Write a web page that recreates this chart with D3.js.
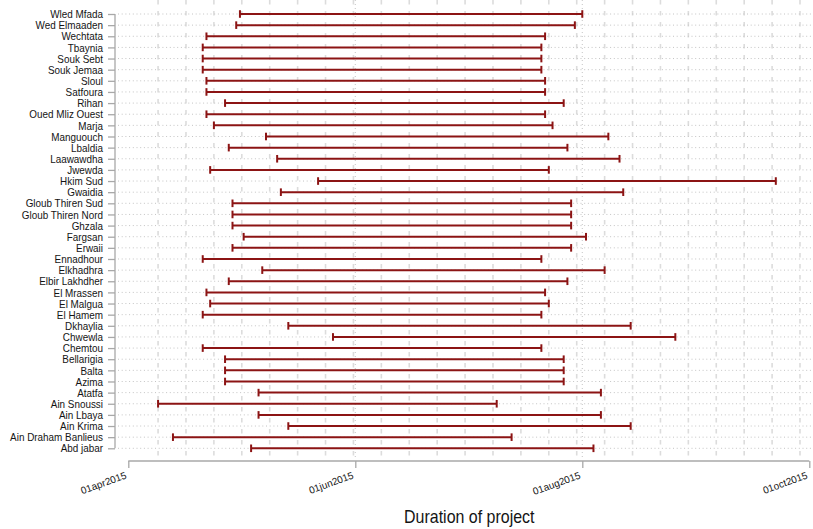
<!DOCTYPE html>
<html>
<head>
<meta charset="utf-8">
<script src="https://cdn.jsdelivr.net/npm/d3@7"></script>
<style>
  html, body { margin: 0; padding: 0; background: #fff; }
  svg { display: block; font-family: "Liberation Sans", Arial, sans-serif; }
</style>
</head>
<body>
<svg id="chart" width="813" height="529"></svg>
<script>
// ---- data ----
const categories = [
  "Wled Mfada","Wed Elmaaden","Wechtata","Tbaynia","Souk Sebt","Souk Jemaa","Sloul","Satfoura",
  "Rihan","Oued Mliz Ouest","Marja","Manguouch","Lbaldia","Laawawdha","Jwewda","Hkim Sud",
  "Gwaidia","Gloub Thiren Sud","Gloub Thiren Nord","Ghzala","Fargsan","Erwaii","Ennadhour",
  "Elkhadhra","Elbir Lakhdher","El Mrassen","El Malgua","El Hamem","Dkhaylia","Chwewla",
  "Chemtou","Bellarigia","Balta","Azima","Atatfa","Ain Snoussi","Ain Lbaya","Ain Krima",
  "Ain Draham Banlieus","Abd jabar"
];
const startDates = [
  "2015-05-01","2015-04-30","2015-04-22","2015-04-21","2015-04-21","2015-04-21","2015-04-22","2015-04-22",
  "2015-04-27","2015-04-22","2015-04-24","2015-05-08","2015-04-28","2015-05-11","2015-04-23","2015-05-22",
  "2015-05-12","2015-04-29","2015-04-29","2015-04-29","2015-05-02","2015-04-29","2015-04-21",
  "2015-05-07","2015-04-28","2015-04-22","2015-04-23","2015-04-21","2015-05-14","2015-05-26",
  "2015-04-21","2015-04-27","2015-04-27","2015-04-27","2015-05-06","2015-04-09","2015-05-06","2015-05-14",
  "2015-04-13","2015-05-04"
];
const endDates = [
  "2015-08-01","2015-07-30","2015-07-22","2015-07-21","2015-07-21","2015-07-21","2015-07-22","2015-07-22",
  "2015-07-27","2015-07-22","2015-07-24","2015-08-08","2015-07-28","2015-08-11","2015-07-23","2015-09-22",
  "2015-08-12","2015-07-29","2015-07-29","2015-07-29","2015-08-02","2015-07-29","2015-07-21",
  "2015-08-07","2015-07-28","2015-07-22","2015-07-23","2015-07-21","2015-08-14","2015-08-26",
  "2015-07-21","2015-07-27","2015-07-27","2015-07-27","2015-08-06","2015-07-09","2015-08-06","2015-08-14",
  "2015-07-13","2015-08-04"
];
const tickDates = ["2015-04-01","2015-06-01","2015-08-01","2015-10-01"];
const axisTitle = "Duration of project";

// ---- setup ----
const parse = d3.utcParse("%Y-%m-%d");
const fmt = d => d3.utcFormat("%d%b%Y")(d).toLowerCase();
const rows = categories.map((c, i) => ({ name: c, start: parse(startDates[i]), end: parse(endDates[i]) }));
const ticks = tickDates.map(parse);

const svg = d3.select("#chart");
svg.append("rect").attr("width", 813).attr("height", 529).attr("fill", "#fff");

const x = d3.scaleUtc().domain([ticks[0], ticks[ticks.length - 1]]).range([128.3, 809.3]);
const y = d3.scalePoint().domain(categories).range([14, 448.3]);

const DAY = 86400000;
const plotTop = 0, plotBottom = 461;

function condense(sel, factor) {
  sel.each(function () {
    const L = this.getComputedTextLength();
    d3.select(this).attr("textLength", L * factor).attr("lengthAdjust", "spacingAndGlyphs");
  });
}

// minor vertical gridlines (every 7.5 days)
const minor = d3.range(1, 25).map(k => new Date(ticks[0].getTime() + (0.5 + 7.5 * k) * DAY));
svg.append("g").selectAll("line").data(minor).join("line")
  .attr("x1", d => x(d)).attr("x2", d => x(d))
  .attr("y1", plotTop).attr("y2", plotBottom - 1)
  .attr("stroke", "#dcdcdc").attr("stroke-width", 1.6)
  .attr("stroke-dasharray", "4.5,6.5");

// major vertical gridlines (interior labels)
svg.append("g").selectAll("line").data(ticks.slice(1, -1)).join("line")
  .attr("x1", d => x(d)).attr("x2", d => x(d))
  .attr("y1", plotTop).attr("y2", plotBottom - 1)
  .attr("stroke", "#c9c9c9").attr("stroke-width", 1.1)
  .attr("stroke-dasharray", "1,3");

// horizontal dotted gridlines
svg.append("g").selectAll("line").data(categories).join("line")
  .attr("x1", 118).attr("x2", 812)
  .attr("y1", d => y(d)).attr("y2", d => y(d))
  .attr("stroke", "#c4c4c4").attr("stroke-width", 1)
  .attr("stroke-dasharray", "1,2.7");

// ---- y axis ----
const yAxis = d3.axisLeft(y).tickSize(7).tickPadding(5);
const gy = svg.append("g").attr("transform", "translate(115,0)").call(yAxis);
gy.select(".domain").attr("stroke", "#a8a8a8").attr("stroke-width", 1.3).attr("d", `M0,${y.range()[0]}V${y.range()[1]}`);
gy.selectAll(".tick line").attr("stroke", "#a8a8a8").attr("stroke-width", 1.3);
gy.selectAll(".tick text")
  .attr("fill", "#141414").attr("font-size", 11.5)
  .attr("font-family", "'Liberation Sans', Arial, sans-serif")
  .call(condense, 0.86);

// ---- x axis ----
const xAxis = d3.axisBottom(x).tickValues(ticks).tickSize(7).tickFormat(fmt);
const gx = svg.append("g").attr("transform", `translate(0,${plotBottom})`).call(xAxis);
gx.select(".domain").attr("stroke", "#a8a8a8").attr("stroke-width", 1.3)
  .attr("d", `M${x.range()[0]},0H${x.range()[1]}`);
gx.selectAll(".tick line").attr("stroke", "#a8a8a8").attr("stroke-width", 1.3);
gx.selectAll(".tick text")
  .attr("fill", "#141414").attr("font-size", 10)
  .attr("font-family", "'Liberation Sans', Arial, sans-serif")
  .attr("text-anchor", "end")
  .attr("dy", null).attr("y", null)
  .attr("transform", "translate(-1.5,17) rotate(-20)");

// axis title
svg.append("text")
  .attr("x", (x.range()[0] + x.range()[1]) / 2 + 0.5)
  .attr("y", 523)
  .attr("text-anchor", "middle")
  .attr("font-size", 19)
  .attr("fill", "#141414")
  .text(axisTitle)
  .call(condense, 0.84);

// ---- range bars ----
const barColor = "#8c1414";
const g = svg.append("g");
g.selectAll("line.bar").data(rows).join("line").attr("class", "bar")
  .attr("x1", d => x(d.start)).attr("x2", d => x(d.end))
  .attr("y1", d => y(d.name)).attr("y2", d => y(d.name))
  .attr("stroke", barColor).attr("stroke-width", 2);
const caps = rows.flatMap(d => [{ name: d.name, t: d.start }, { name: d.name, t: d.end }]);
g.selectAll("line.cap").data(caps).join("line").attr("class", "cap")
  .attr("x1", d => x(d.t)).attr("x2", d => x(d.t))
  .attr("y1", d => y(d.name) - 3.8).attr("y2", d => y(d.name) + 3.8)
  .attr("stroke", barColor).attr("stroke-width", 2);
</script>
</body>
</html>
